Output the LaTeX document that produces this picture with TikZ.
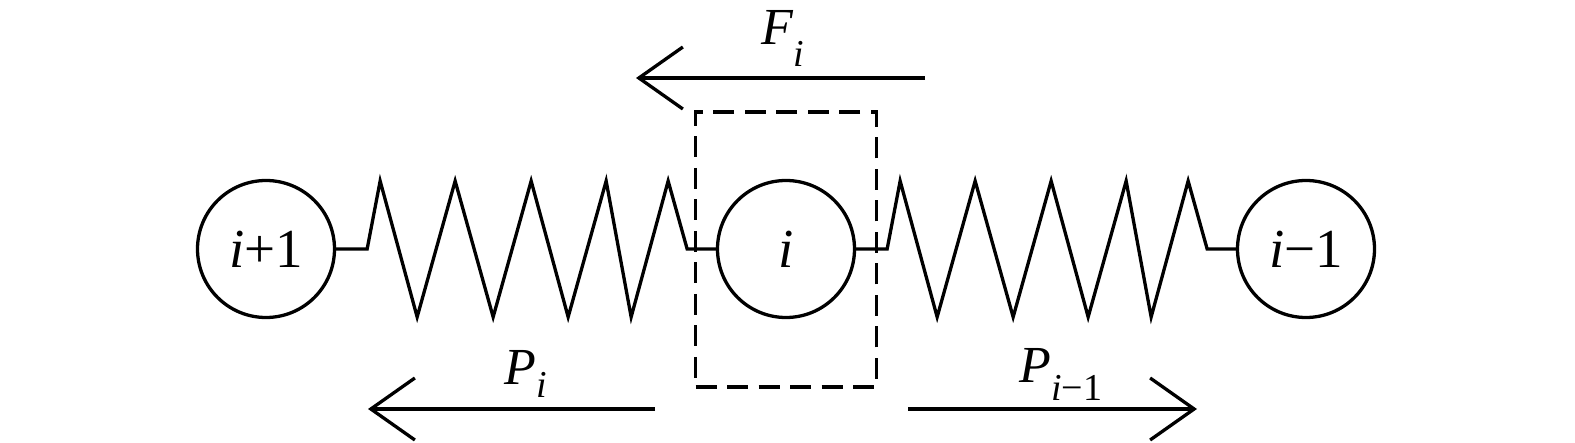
\documentclass[tikz,border=0pt]{standalone}
\usepackage{fontspec}
\setmainfont{Liberation Serif}
\usepackage{tikz}
\usetikzlibrary{arrows.meta, positioning}
\newcommand{\idx}[2]{\raisebox{-#1pt}{\fontsize{38}{38}\selectfont #2}}

\begin{document}
\begin{tikzpicture}[x=1pt, y=-1pt, line width=3.3pt,
  ball/.style={circle, draw, minimum size=137pt, inner sep=0pt, font=\fontsize{55}{55}\selectfont},
  force/.style={-{Straight Barb[length=44pt,width=62pt]}},
  cutbox/.style={draw, line width=3.5pt, dash pattern=on 21pt off 10.5pt, minimum width=181pt, minimum height=275pt, inner sep=0pt},
  lab/.style={anchor=base west, inner sep=0pt, font=\fontsize{52}{52}\selectfont\itshape}]
  \useasboundingbox (0,0) rectangle (1575,443);

  % 質點
  \node[ball] (ip1) at (266,249) {\textit{i}+1};
  \node[ball] (i) at (786,249) {\textit{i}};
  \node[ball] (im1) at (1306,249) {\textit{i}−1};

  % 彈簧
  \foreach \a/\b in {ip1/i, i/im1}
    \draw (\a.east) -- ++(31,0) -- ++(13,-68) -- ++(37,136) -- ++(38,-136) -- ++(38,136)
      -- ++(38,-136) -- ++(37,136) -- ++(38,-136) -- ++(25,136) -- ++(37,-136)
      -- ++(19,68) -- (\b.west);

  % 隔離體(虛線框)
  \node[cutbox] (cut) at (786,249.5) {};

  % 外力 F_i
  \coordinate (Ftail) at (925,78);
  \coordinate (Fhead) at (636,78);
  \draw[force] (Ftail) -- (Fhead);
  \node[lab] (Flab) at (760,45) {F\idx{22}{i}};

  % 彈簧力 P_i, P_{i-1}
  \coordinate (Pitail) at (655,409);
  \coordinate (Pihead) at (368,409);
  \draw[force] (Pitail) -- (Pihead);
  \node[lab] (Pilab) at (503,385) {P\idx{13}{i}};

  \coordinate (Pjtail) at (908,409);
  \coordinate (Pjhead) at (1197,409);
  \draw[force] (Pjtail) -- (Pjhead);
  \node[lab] (Pjlab) at (1018,383) {P\idx{18}{i\upshape−1}};
\end{tikzpicture}
\end{document}
